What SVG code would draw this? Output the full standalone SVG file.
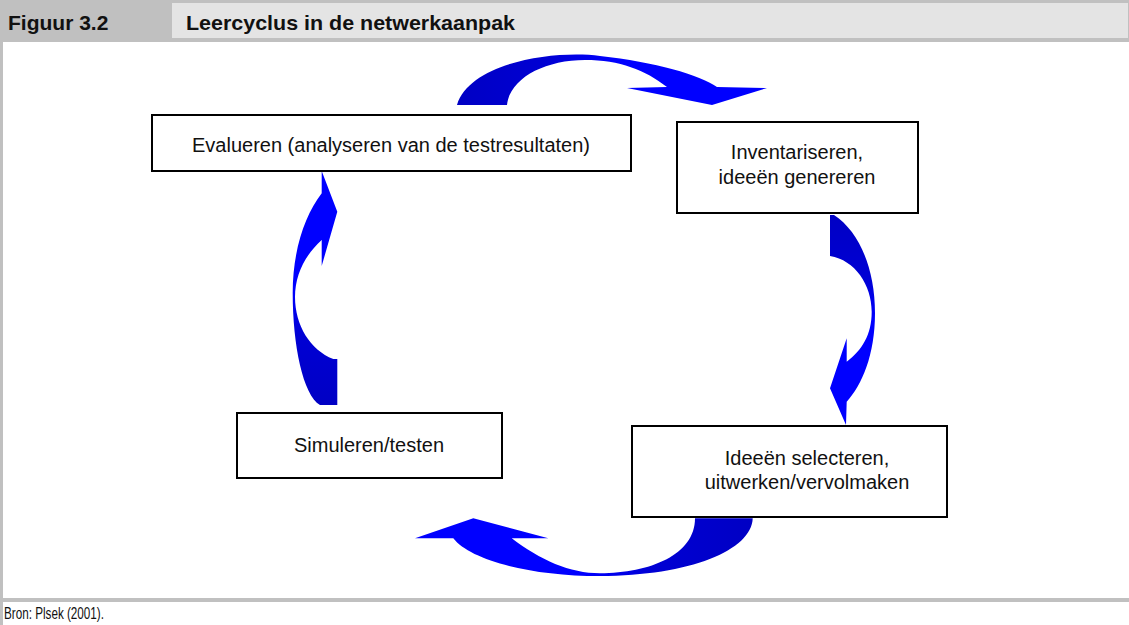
<svg xmlns="http://www.w3.org/2000/svg" width="1129" height="625" viewBox="0 0 1129 625">
<style>
.bar{fill:#c0c0c0}
.box{fill:#fff;stroke:#000;stroke-width:2}
.t{font-family:"Liberation Sans",Arial,sans-serif;font-size:20px;fill:#111;text-anchor:middle}
.h{font-family:"Liberation Sans",Arial,sans-serif;font-size:21px;font-weight:bold;fill:#111}
.f{font-family:"Liberation Sans",Arial,sans-serif;font-size:16px;fill:#111}
</style>
<defs>
<linearGradient id="gTop" x1="0" y1="0" x2="1" y2="0">
<stop offset="0" stop-color="#0000c4"/><stop offset="0.3" stop-color="#0000d4"/><stop offset="0.5" stop-color="#0000ff"/><stop offset="1" stop-color="#0000ff"/>
</linearGradient>
<linearGradient id="gRight" x1="0" y1="0" x2="0" y2="1">
<stop offset="0" stop-color="#0000c4"/><stop offset="0.3" stop-color="#0000d4"/><stop offset="0.5" stop-color="#0000ff"/><stop offset="1" stop-color="#0000ff"/>
</linearGradient>
<linearGradient id="gBottom" x1="1" y1="0" x2="0" y2="0">
<stop offset="0" stop-color="#0000c4"/><stop offset="0.3" stop-color="#0000d4"/><stop offset="0.5" stop-color="#0000ff"/><stop offset="1" stop-color="#0000ff"/>
</linearGradient>
<linearGradient id="gLeft" x1="0" y1="1" x2="0" y2="0">
<stop offset="0" stop-color="#0000c4"/><stop offset="0.3" stop-color="#0000d4"/><stop offset="0.5" stop-color="#0000ff"/><stop offset="1" stop-color="#0000ff"/>
</linearGradient>
</defs>
<rect x="0" y="0" width="1129" height="625" fill="#fff"/>
<g id="header">
<rect x="0" y="0" width="1129" height="42" class="bar"/>
<rect x="172" y="3" width="956" height="35" fill="#e4e4e4"/>
<text x="8" y="30" class="h">Figuur 3.2</text>
<text x="186" y="30" class="h" textLength="329" lengthAdjust="spacingAndGlyphs">Leercyclus in de netwerkaanpak</text>
</g>
<g id="frame">
<rect x="0" y="42" width="3" height="583" class="bar"/>
<rect x="0" y="598" width="1129" height="4" class="bar"/>
</g>
<g id="connectors">
<path id="arrowTop" fill="url(#gTop)" d="M457 105 C470 62 555 50 600 56 C655 62 700 75 717 87 L767 88 L712 105 L627 88 L667 87 C645 70 620 60 585 60 C545 60 510 78 507 105 Z"/>
<path id="arrowRight" fill="url(#gRight)" d="M830 215 L834 215 C860 232 875 270 875 313 C875 355 862 385 846.7 401.7 L846 425 L830 388.3 L846.7 338.3 L846.7 361.7 C862 350 871.7 335 871.7 311.7 C871.7 285 855 260 830 256 Z"/>
<path id="arrowBottom" fill="url(#gBottom)" d="M752.7 518.3 C752 550 690 576 600 576 C530 576 470 560 453.3 538.3 L415 538.3 L473.3 518.3 L548.3 538.3 L511.7 538.3 C540 560 570 573.3 600 573.3 C650 573 695 555 695 518.3 Z"/>
<path id="arrowLeft" fill="url(#gLeft)" d="M321.7 171 L337.3 211.7 L321.7 266 L321.7 240 C305 255 295 275 295 297 C295 325 310 350 333.3 359 L337.3 359 L337.3 405 L320 405 C303 395 292.7 345 292.7 293 C292.7 250 305 215 321.7 193.3 Z"/>
</g>
<g id="node-evalueren">
<rect x="152" y="115" width="479" height="56" class="box"/>
<text x="391" y="152" class="t">Evalueren (analyseren van de testresultaten)</text>
</g>
<g id="node-inventariseren">
<rect x="677" y="122" width="241" height="91" class="box"/>
<text x="797" y="159" class="t">Inventariseren,</text>
<text x="797" y="184" class="t">ideeën genereren</text>
</g>
<g id="node-ideeen">
<rect x="632" y="426" width="315" height="91" class="box"/>
<text x="807" y="465" class="t">Ideeën selecteren,</text>
<text x="807" y="489" class="t">uitwerken/vervolmaken</text>
</g>
<g id="node-simuleren">
<rect x="237" y="413" width="265" height="65" class="box"/>
<text x="369" y="452" class="t">Simuleren/testen</text>
</g>
<g id="footer">
<text x="4" y="619" class="f" textLength="100" lengthAdjust="spacingAndGlyphs">Bron: Plsek (2001).</text>
</g>
</svg>
